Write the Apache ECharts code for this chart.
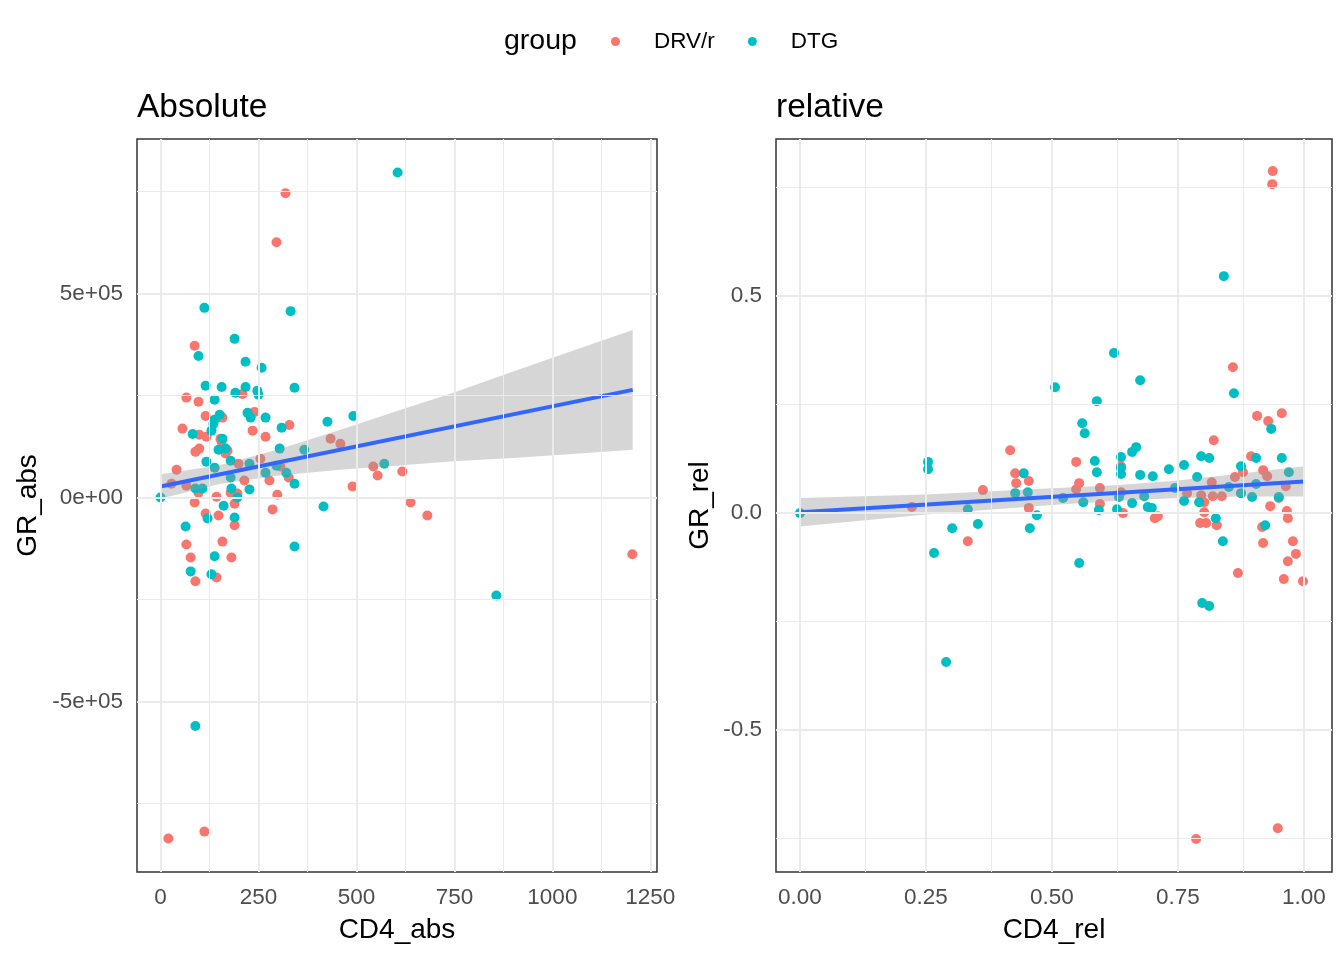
<!DOCTYPE html>
<html><head><meta charset="utf-8">
<script src="https://cdn.jsdelivr.net/npm/echarts@6/dist/echarts.min.js"></script>
<style>html,body{margin:0;padding:0;background:#fff}#c{width:1344px;height:960px}</style>
</head><body><div id="c"></div>
<script>
// ---------- data ----------
const groups = ['DRV/r', 'DTG'];
const groupColors = ['#F8766D', '#00BFC4'];

// Absolute panel: [CD4_abs, GR_abs]
const absDRV = [[319,746000],[296,626000],[87,372000],[66,245000],[97,235000],[209,254000],[240,210000],[115,200000],[158,196000],[56,169000],[329,178000],[235,164000],[268,149000],[99,154000],[117,149000],[153,144000],[156,137000],[89,112000],[99,120000],[166,108000],[171,115000],[41,68000],[199,83000],[255,95000],[306,76000],[214,42000],[278,42000],[327,49000],[434,144000],[459,132000],[28,34000],[66,29000],[97,12000],[87,-12000],[143,2000],[179,12000],[196,10000],[189,-15000],[298,7000],[286,-29000],[115,-39000],[148,-44000],[189,-68000],[158,-108000],[66,-115000],[181,-147000],[77,-147000],[89,-205000],[143,-196000],[490,27000],[543,76000],[554,54000],[617,64000],[638,-12000],[681,-44000],[1204,-139000],[20,-836000],[112,-819000]];
const absDTG = [[605,797000],[112,465000],[332,457000],[189,389000],[97,347000],[217,333000],[258,318000],[115,274000],[156,271000],[217,271000],[342,269000],[191,257000],[247,262000],[250,252000],[138,240000],[222,208000],[230,196000],[268,196000],[151,203000],[138,191000],[135,181000],[130,164000],[309,171000],[426,186000],[82,156000],[492,200000],[158,144000],[148,117000],[166,120000],[117,88000],[138,73000],[179,90000],[179,49000],[227,83000],[304,120000],[367,117000],[268,61000],[296,78000],[321,61000],[342,34000],[89,22000],[107,22000],[0,0],[181,22000],[227,20000],[196,0],[161,-20000],[120,-51000],[189,-49000],[64,-71000],[416,-22000],[138,-144000],[342,-120000],[77,-181000],[130,-188000],[571,83000],[857,-240000],[89,-560000]];

// Relative panel: [CD4_rel, GR_rel]
const relDRV = [[0.222,0.014],[0.333,-0.065],[0.363,0.053],[0.417,0.145],[0.427,0.092],[0.429,0.069],[0.454,0.074],[0.454,0.012],[0.548,0.118],[0.554,0.069],[0.548,0.055],[0.595,0.058],[0.595,0.021],[0.637,0.108],[0.637,0.048],[0.641,0.0],[0.704,-0.012],[0.710,-0.007],[0.768,0.046],[0.796,0.041],[0.802,0.025],[0.802,0.002],[0.794,-0.023],[0.806,-0.023],[0.827,-0.028],[0.817,0.071],[0.821,0.168],[0.819,0.039],[0.837,0.039],[0.859,0.336],[0.869,-0.138],[0.863,0.083],[0.879,0.094],[0.895,0.131],[0.907,0.224],[0.929,0.212],[0.956,0.230],[0.919,0.099],[0.927,0.085],[0.933,0.016],[0.917,-0.032],[0.919,-0.069],[0.950,0.035],[0.964,0.062],[0.966,0.005],[0.968,-0.012],[0.978,-0.065],[0.984,-0.094],[0.968,-0.111],[0.960,-0.152],[0.998,-0.157],[0.938,0.788],[0.937,0.758],[0.786,-0.751],[0.948,-0.726]];
const relDTG = [[0,0],[0.254,0.118],[0.254,0.101],[0.266,-0.092],[0.290,-0.343],[0.302,-0.035],[0.333,0.009],[0.353,-0.025],[0.427,0.046],[0.444,0.092],[0.452,0.048],[0.470,-0.005],[0.456,-0.035],[0.506,0.290],[0.522,0.035],[0.554,-0.115],[0.560,0.207],[0.565,0.184],[0.585,0.120],[0.589,0.094],[0.562,0.025],[0.589,0.258],[0.593,0.007],[0.623,0.369],[0.629,0.009],[0.637,0.129],[0.637,0.104],[0.637,0.090],[0.633,0.037],[0.659,0.141],[0.667,0.152],[0.675,0.306],[0.675,0.088],[0.659,0.023],[0.683,0.039],[0.690,0.014],[0.698,0.012],[0.700,0.085],[0.732,0.101],[0.744,0.058],[0.762,0.111],[0.762,0.028],[0.788,0.083],[0.792,0.025],[0.796,0.131],[0.812,0.127],[0.798,-0.207],[0.812,-0.214],[0.825,-0.012],[0.839,-0.065],[0.851,0.060],[0.861,0.276],[0.875,0.108],[0.875,0.046],[0.897,0.037],[0.905,0.127],[0.905,0.067],[0.923,-0.028],[0.935,0.194],[0.950,0.037],[0.956,0.127],[0.970,0.094],[0.841,0.546]];

// Linear-fit lines and confidence bands
const absFitX = [0, 1205];
const absFitY = [27000, 264000];
const absBandX  = [0, 150, 300, 459, 600, 747, 900, 1050, 1205];
const absBandLo = [-3000, 33000, 54000, 68000, 78000, 89000, 97000, 107000, 117000];
const absBandHi = [57000, 79000, 118000, 166000, 211000, 257000, 309000, 359000, 411000];

const relFitX = [0, 1.0];
const relFitY = [0.002, 0.073];
const relBandX  = [0, 0.25, 0.5, 0.625, 0.75, 0.875, 1.0];
const relBandLo = [-0.031, -0.003, 0.0185, 0.028, 0.035, 0.038, 0.038];
const relBandHi = [0.035, 0.043, 0.057, 0.064, 0.075, 0.091, 0.108];

// Axis ticks
const absXTicks = [0, 250, 500, 750, 1000, 1250];
const absXMinor = [125, 375, 625, 875, 1125];
const absYTicks = [-500000, 0, 500000];
const absYLabels = ['-5e+05', '0e+00', '5e+05'];
const absYMinor = [-750000, -250000, 250000, 750000];
const relXTicks = [0, 0.25, 0.5, 0.75, 1];
const relXLabels = ['0.00', '0.25', '0.50', '0.75', '1.00'];
const relXMinor = [0.125, 0.375, 0.625, 0.875];
const relYTicks = [-0.5, 0, 0.5];
const relYLabels = ['-0.5', '0.0', '0.5'];
const relYMinor = [-0.75, -0.25, 0.25, 0.75];

// ---------- chart ----------
const FONT = '"Liberation Sans", Arial, sans-serif';
const chart = echarts.init(document.getElementById('c'), null, {renderer: 'canvas'});

function gridLines(xMaj, xMin, yMaj, yMin) {
  const d = [];
  xMin.forEach(v => d.push({xAxis: v, lineStyle: {width: 1}}));
  yMin.forEach(v => d.push({yAxis: v, lineStyle: {width: 1}}));
  xMaj.forEach(v => d.push({xAxis: v, lineStyle: {width: 2}}));
  yMaj.forEach(v => d.push({yAxis: v, lineStyle: {width: 2}}));
  return d;
}
function helper(idx, xMaj, xMin, yMaj, yMin) {
  return {
    type: 'scatter', xAxisIndex: idx, yAxisIndex: idx, data: [], silent: true, z: 0,
    markLine: {
      silent: true, symbol: ['none', 'none'], animation: false, label: {show: false},
      emphasis: {disabled: true},
      lineStyle: {color: '#EBEBEB', type: 'solid'},
      data: gridLines(xMaj, xMin, yMaj, yMin)
    }
  };
}
function band(idx, bx, lo, hi) {
  const rows = bx.map((x, i) => [x, lo[i], hi[i]]);
  return {
    type: 'custom', xAxisIndex: idx, yAxisIndex: idx, silent: true, z: 3,
    data: rows, encode: {x: 0, y: [1, 2]},
    renderItem: function (params, api) {
      if (params.dataIndex !== 0) return null;
      const pts = [];
      for (let i = 0; i < rows.length; i++) pts.push(api.coord([rows[i][0], rows[i][1]]));
      for (let i = rows.length - 1; i >= 0; i--) pts.push(api.coord([rows[i][0], rows[i][2]]));
      return {type: 'polygon', shape: {points: pts}, style: {fill: 'rgba(153,153,153,0.4)'}};
    }
  };
}
function fit(idx, fx, fy) {
  return {
    type: 'line', xAxisIndex: idx, yAxisIndex: idx, silent: true, z: 4,
    data: fx.map((x, i) => [x, fy[i]]), symbol: 'none',
    lineStyle: {color: '#3366FF', width: 4}
  };
}
function pts(idx, name, data, color) {
  return {
    type: 'scatter', name: name, xAxisIndex: idx, yAxisIndex: idx, z: 2,
    data: data, symbol: 'circle', symbolSize: 10,
    itemStyle: {color: color, opacity: 1}
  };
}

const tickLabelStyle = {color: '#4D4D4D', fontSize: 22.5, fontFamily: FONT};
const nameStyle = {color: '#000', fontSize: 28, fontFamily: FONT};
const tickStyle = {show: true, length: 6, lineStyle: {color: '#333333', width: 1.5}};

function xAxis(idx, min, max, ticks, labels, name) {
  return {
    type: 'value', gridIndex: idx, min: min, max: max,
    name: name, nameLocation: 'middle', nameGap: 44, nameTextStyle: nameStyle,
    axisLine: {show: false},
    axisTick: Object.assign({customValues: ticks}, tickStyle),
    axisLabel: Object.assign({customValues: ticks, margin: 14, hideOverlap: false,
      formatter: v => labels ? labels[ticks.indexOf(v)] : String(v)}, tickLabelStyle),
    splitLine: {show: false}
  };
}
function yAxis(idx, min, max, ticks, labels, name, gap) {
  return {
    type: 'value', gridIndex: idx, min: min, max: max,
    name: name, nameLocation: 'middle', nameGap: gap, nameTextStyle: nameStyle,
    axisLine: {show: false},
    axisTick: Object.assign({customValues: ticks}, tickStyle),
    axisLabel: Object.assign({customValues: ticks, margin: 14, hideOverlap: false,
      formatter: v => labels[ticks.indexOf(v)]}, tickLabelStyle),
    splitLine: {show: false}
  };
}

const option = {
  backgroundColor: '#FFFFFF',
  animation: false,
  title: [
    {text: 'group', left: 499, top: 22, textStyle: {fontSize: 28.5, fontWeight: 'normal', color: '#000', fontFamily: FONT}},
    {text: 'Absolute', left: 132, top: 86, textStyle: {fontSize: 33.5, fontWeight: 'normal', color: '#000', fontFamily: FONT}},
    {text: 'relative', left: 771, top: 86, textStyle: {fontSize: 33.5, fontWeight: 'normal', color: '#000', fontFamily: FONT}}
  ],
  legend: {
    data: groups.map((g, i) => ({name: g, icon: 'circle', itemStyle: {color: groupColors[i]}})),
    left: 606, top: 25, orient: 'horizontal',
    itemWidth: 9, itemHeight: 9, itemGap: 33,
    textStyle: {fontSize: 22.5, color: '#000', fontFamily: FONT, padding: [0, 0, 0, 29]}
  },
  grid: [
    {left: 137, top: 139, width: 520, height: 733, show: true, backgroundColor: '#fff',
     borderColor: '#333333', borderWidth: 1.5, outerBoundsMode: 'none', containLabel: false},
    {left: 776, top: 139, width: 556, height: 733, show: true, backgroundColor: '#fff',
     borderColor: '#333333', borderWidth: 1.5, outerBoundsMode: 'none', containLabel: false}
  ],
  xAxis: [
    xAxis(0, -60, 1267, absXTicks, null, 'CD4_abs'),
    xAxis(1, -0.0476, 1.0556, relXTicks, relXLabels, 'CD4_rel')
  ],
  yAxis: [
    yAxis(0, -918000, 879000, absYTicks, absYLabels, 'GR_abs', 95),
    yAxis(1, -0.827, 0.862, relYTicks, relYLabels, 'GR_rel', 62)
  ],
  series: [
    helper(0, absXTicks, absXMinor, absYTicks, absYMinor),
    helper(1, relXTicks, relXMinor, relYTicks, relYMinor),
    pts(0, groups[0], absDRV, groupColors[0]),
    pts(0, groups[1], absDTG, groupColors[1]),
    pts(1, groups[0], relDRV, groupColors[0]),
    pts(1, groups[1], relDTG, groupColors[1]),
    band(0, absBandX, absBandLo, absBandHi),
    band(1, relBandX, relBandLo, relBandHi),
    fit(0, absFitX, absFitY),
    fit(1, relFitX, relFitY)
  ]
};
chart.setOption(option);
</script>
</body></html>
